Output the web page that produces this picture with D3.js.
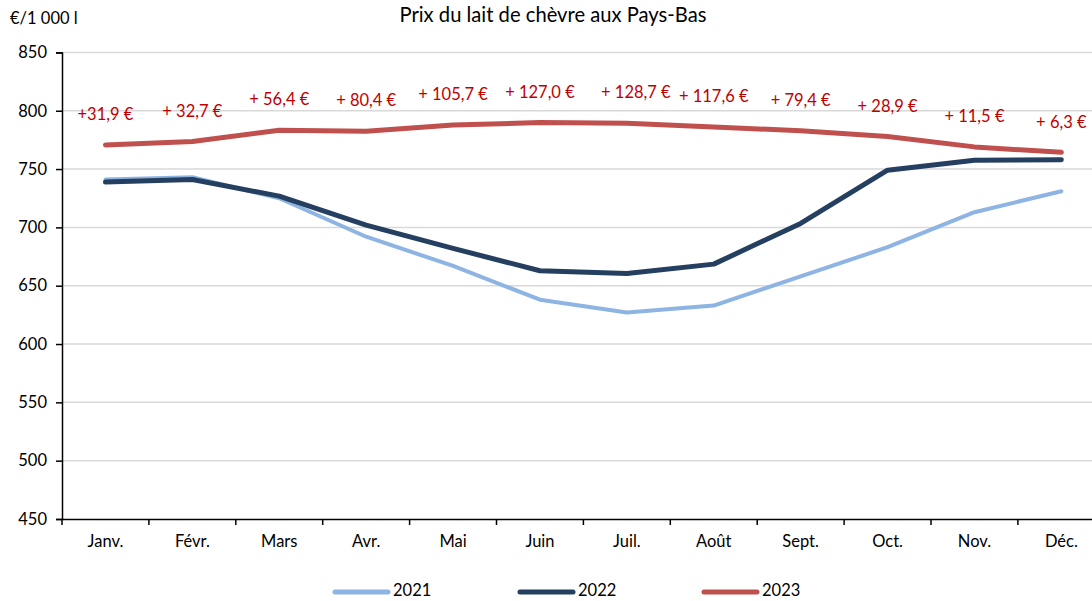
<!DOCTYPE html>
<html><head><meta charset="utf-8">
<script src="https://cdn.jsdelivr.net/npm/d3@7"></script>
<style>body{margin:0;background:#fff}svg{display:block}text{font-family:Lato,"Open Sans",sans-serif}</style>
</head><body>
<svg id="c" width="1092" height="601"></svg>
<script>
const months = ["Janv.","Févr.","Mars","Avr.","Mai","Juin","Juil.","Août","Sept.","Oct.","Nov.","Déc."];
const v2021 = [741, 743, 725, 692, 667, 638, 627, 633, 658, 683, 713, 731];
const v2022 = [738.8, 741, 726.8, 702, 682, 662.8, 660.5, 668.5, 703.4, 749, 757.5, 758];
const v2023 = [770.7, 773.7, 783.2, 782.4, 787.7, 789.8, 789.2, 786.1, 782.8, 777.9, 769, 764.3];
const diffLabels = ["+31,9 €","+ 32,7 €","+ 56,4 €","+ 80,4 €","+ 105,7 €","+ 127,0 €","+ 128,7 €","+ 117,6 €","+ 79,4 €","+ 28,9 €","+ 11,5 €","+ 6,3 €"];
const yTicks = [450,500,550,600,650,700,750,800,850];
const seriesNames = ["2021","2022","2023"];
const colors = ["#8DB4E2","#243F60","#C0504D"];

const svg = d3.select("#c");
const x = d3.scaleBand().domain(months).range([62, 62 + 12*86.9]);
const y = d3.scaleLinear().domain([450, 850]).range([519, 52.4]);

// gridlines
svg.append("g").selectAll("line").data(yTicks.filter(d=>d>450)).join("line")
  .attr("x1", 62).attr("x2", 1092).attr("y1", d=>y(d)).attr("y2", d=>y(d))
  .attr("stroke", "#D9D9D9").attr("stroke-width", 1.5);

// y axis
const ya = svg.append("g").attr("transform","translate(62,0)")
  .call(d3.axisLeft(y).tickValues(yTicks).tickSize(6).tickPadding(9).tickFormat(d3.format("d")));
ya.select(".domain").attr("stroke","#000").attr("stroke-width",1.5);
ya.selectAll(".tick line").attr("stroke","#000").attr("stroke-width",1.5);
ya.selectAll("text").attr("font-size",16.5).attr("fill","#000").style("font-family","Lato");

// x axis
const xa = svg.append("g").attr("transform","translate(0,519)")
  .call(d3.axisBottom(x).tickSize(0).tickPadding(16));
xa.select(".domain").attr("stroke","#000").attr("stroke-width",1.5);
xa.selectAll("text").attr("font-size",16.5).attr("fill","#000").style("font-family","Lato");
// boundary ticks
svg.append("g").selectAll("line").data(months).join("line")
  .attr("x1", d=>x(d)).attr("x2", d=>x(d)).attr("y1",519).attr("y2",525)
  .attr("stroke","#000").attr("stroke-width",1.5);

const cx = d => x(d) + x.bandwidth()/2;
const line = d3.line().x((d,i)=>cx(months[i])).y(d=>y(d));
const all = [v2021, v2022, v2023];
const widths = [4, 5, 5];
all.forEach((s,k)=>{
  svg.append("path").datum(s).attr("d", line).attr("fill","none")
    .attr("stroke", colors[k]).attr("stroke-width", widths[k])
    .attr("stroke-linejoin","round").attr("stroke-linecap","round");
});

// labels
svg.append("g").selectAll("text").data(diffLabels).join("text")
  .attr("x",(d,i)=>cx(months[i]) + (i===6?9:0))
  .attr("y",(d,i)=>y(v2023[i]) - 29)
  .attr("text-anchor","middle").attr("dominant-baseline","middle")
  .attr("font-size",16.5).attr("fill","#C00000").text(d=>d);

// title
svg.append("text").attr("x",553).attr("y",17).attr("text-anchor","middle")
  .attr("dominant-baseline","middle").attr("font-size",20.2).attr("fill","#000")
  .text("Prix du lait de chèvre aux Pays-Bas");
svg.append("text").attr("x",10).attr("y",20).attr("dominant-baseline","middle")
  .attr("font-size",16.5).attr("fill","#000").text("€/1 000 l");

// legend
const lx = [335, 520, 704];
const lg = svg.append("g").selectAll("g").data(seriesNames).join("g");
lg.append("line").attr("x1",(d,i)=>lx[i]).attr("x2",(d,i)=>lx[i]+53).attr("y1",592).attr("y2",592)
  .attr("stroke",(d,i)=>colors[i]).attr("stroke-width",5).attr("stroke-linecap","round");
lg.append("text").attr("x",(d,i)=>lx[i]+58).attr("y",592).attr("dominant-baseline","middle")
  .attr("font-size",16.5).attr("fill","#000").text(d=>d);
</script>
</body></html>
